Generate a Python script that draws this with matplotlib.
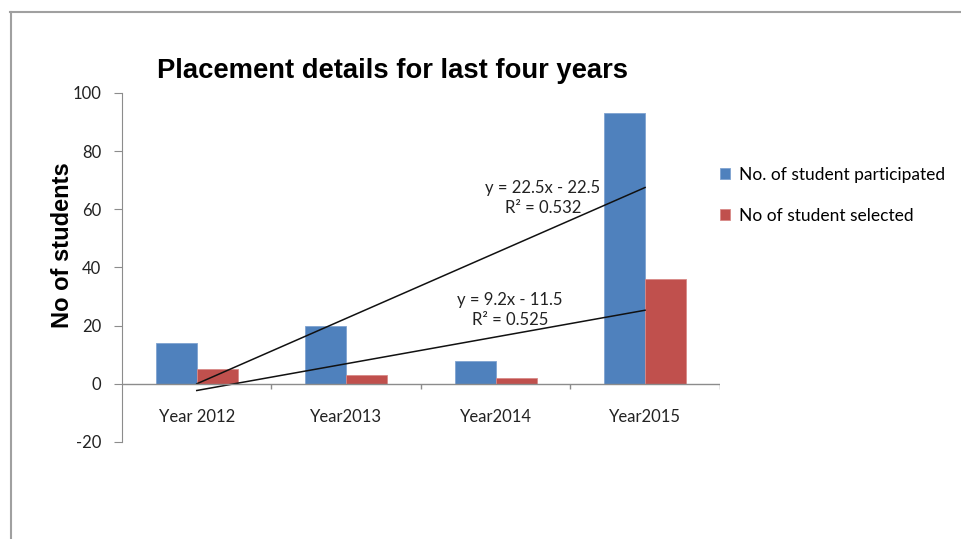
import numpy as np
import matplotlib.pyplot as plt
from matplotlib.lines import Line2D

plt.rcParams['axes.unicode_minus'] = False

years = ["Year 2012", "Year2013", "Year2014", "Year2015"]
participated = [14, 20, 8, 93]
selected = [5, 3, 2, 36]
r2_shown = [0.532, 0.525]   # as printed on the chart
yticks = [-20, 0, 20, 40, 60, 80, 100]

blue = '#4F81BD'
red = '#C0504D'
grey = '#8c8c8c'
body = 'Lato'

fig = plt.figure(figsize=(9.61, 5.39), dpi=100)
ax = fig.add_axes([0.127, 0.180, 0.622, 0.6475])

x = np.arange(len(years))
w = 0.275
ax.bar(x - w/2, participated, w, color=blue, edgecolor='#7fa3d0', linewidth=0.6,
       label='No. of student participated')
ax.bar(x + w/2, selected, w, color=red, edgecolor='#d88a88', linewidth=0.6,
       label='No of student selected')

# linear trendlines as excel does it (x = 1..n)
xe = x + 1
for vals, r2, tx, ty in [(participated, r2_shown[0], 2.316, 64.0), (selected, r2_shown[1], 2.095, 25.5)]:
    m, b = np.polyfit(xe, vals, 1)
    fit = m*xe + b
    ax.plot([x[0], x[-1]], [fit[0], fit[-1]], color='#111111', lw=1.1)
    ax.text(tx, ty, "y = %.1fx - %.1f\nR² = %.3f" % (m, -b, r2), ha='center', va='center',
            fontsize=12, family=body, color='#222222', linespacing=1.3)

ax.set_xlim(-0.5, 3.5)
ax.set_ylim(-20, 100)
ax.set_yticks(yticks)
ax.set_xticks([])
for s in ['top', 'right', 'bottom']:
    ax.spines[s].set_visible(False)
ax.spines['left'].set_color(grey)
ax.tick_params(axis='y', direction='out', length=6, color=grey, labelsize=12,
               labelcolor='#222222', pad=9)
for lab in ax.get_yticklabels():
    lab.set_family(body)

# category axis at zero
ax.axhline(0, color=grey, lw=1)
ax.vlines([0.5, 1.5, 2.5, 3.5], -1.8, 0, color=grey, lw=1)
for i, yr in enumerate(years):
    ax.text(i, -11.5, yr, ha='center', va='center', fontsize=12, family=body, color='#222222')

fig.text(0.065, 0.545, 'No of students', rotation=90, fontsize=17, fontweight='bold',
         family='Liberation Sans', ha='center', va='center')
fig.text(0.163, 0.868, 'Placement details for last four years', fontsize=19.7, fontweight='bold',
         family='Liberation Sans', ha='left', va='center')

leg = fig.legend(loc='upper left', bbox_to_anchor=(0.733, 0.72), frameon=False,
                 prop={'family': body, 'size': 12.5}, handlelength=0.6, handleheight=0.6,
                 handletextpad=0.5, labelspacing=1.45)

# chart frame
fig.add_artist(Line2D([0.0105, 1], [0.978, 0.978], color='#a0a0a0', lw=1.5))
fig.add_artist(Line2D([0.0115, 0.0115], [0, 0.978], color='#a0a0a0', lw=1.5))

plt.savefig('out.png', dpi=100)
